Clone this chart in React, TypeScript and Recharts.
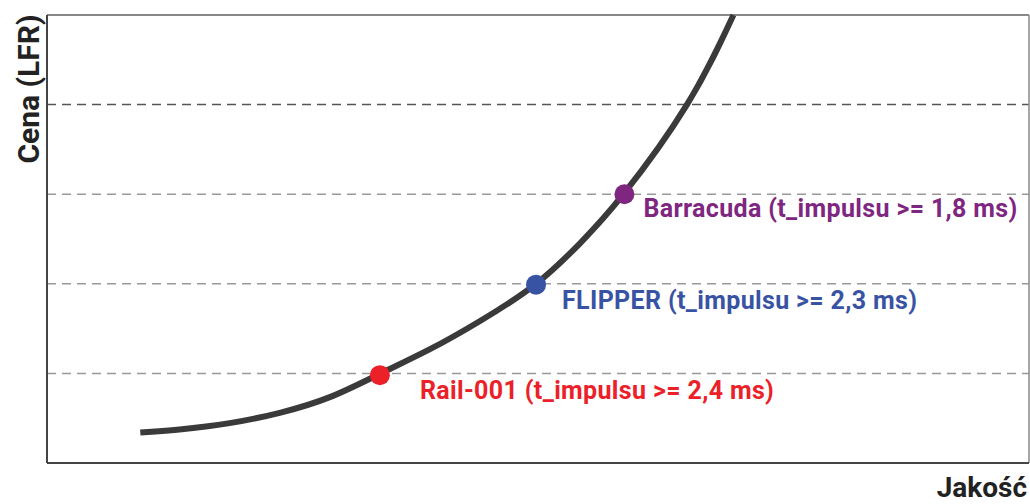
import { ComposedChart, Line, XAxis, YAxis, ReferenceLine, ReferenceDot, Customized } from 'recharts';

// curve: quality (x) vs cost (y), 0..100 on both axes
const curveQuality = [9.5, 13.5, 18.6, 23.7, 28.8, 33.9, 39.0, 44.1, 49.8, 54.3, 58.7, 65.2, 69.9];
const curveCost = [6.8, 7.5, 8.9, 11.2, 14.7, 19.9, 25.4, 31.7, 40.0, 49.1, 60.0, 80.1, 100];

const gridLevels = [20, 40, 60, 80];

const pointNames = [
    'Rail-001 (t_impulsu >= 2,4 ms)',
    'FLIPPER (t_impulsu >= 2,3 ms)',
    'Barracuda (t_impulsu >= 1,8 ms)',
];
const pointQuality = [33.9, 49.8, 58.8];
const pointCost = [19.6, 39.8, 60];

const POINT_COLORS = ['#ec2028', '#3953a4', '#7e2680'];
const LABEL_OFFSETS = [[40, 24], [26, 24], [19, 23]];
const FONT = 'Roboto, "Noto Sans", sans-serif';

const curveData = curveQuality.map((q, i) => ({ x: q, y: curveCost[i] }));

export default function App() {
    return (
        <div style={{ position: 'absolute', left: 0, top: 0, width: 1030, height: 504, background: '#fff' }}>
            <ComposedChart width={1030} height={504} data={curveData} margin={{ top: 15, right: 1, bottom: 41, left: 47 }}>
                <XAxis type="number" dataKey="x" domain={[0, 100]} hide />
                <YAxis type="number" domain={[0, 100]} hide />

                {gridLevels.map((lvl, i) => (
                    <ReferenceLine key={lvl} y={lvl} stroke={i === gridLevels.length - 1 ? '#555' : '#999'} strokeWidth={1.5} strokeDasharray="9 6" />
                ))}

                {/* frame */}
                <ReferenceLine y={100} stroke="#888" strokeWidth={2} />
                <ReferenceLine x={100} stroke="#888" strokeWidth={1.5} />
                <ReferenceLine x={0} stroke="#444" strokeWidth={2} />
                <ReferenceLine y={0} stroke="#444" strokeWidth={2} />

                <Line type="natural" dataKey="y" stroke="#3a3a3a" strokeWidth={6} dot={false} isAnimationActive={false} />

                {pointNames.map((name, i) => (
                    <ReferenceDot
                        key={name}
                        x={pointQuality[i]}
                        y={pointCost[i]}
                        r={10}
                        fill={POINT_COLORS[i]}
                        stroke="none"
                        label={{
                            content: (props: any) => {
                                const vb = props.viewBox;
                                const cx = vb.x + vb.width / 2;
                                const cy = vb.y + vb.height / 2;
                                return (
                                    <text x={cx + LABEL_OFFSETS[i][0]} y={cy + LABEL_OFFSETS[i][1]} fill={POINT_COLORS[i]}
                                        fontFamily={FONT} fontWeight={700} fontSize={25} letterSpacing={0.35}>
                                        {name}
                                    </text>
                                );
                            },
                        }}
                    />
                ))}

                <Customized component={() => (
                    <g fontFamily={FONT} fontWeight={700} fontSize={30} fill="#222">
                        <text x={39} y={89} transform="rotate(-90 39 89)" textAnchor="middle">Cena (LFR)</text>
                        <text x={1027} y={497} textAnchor="end" fontSize={28}>Jakość</text>
                    </g>
                )} />
            </ComposedChart>
        </div>
    );
}
